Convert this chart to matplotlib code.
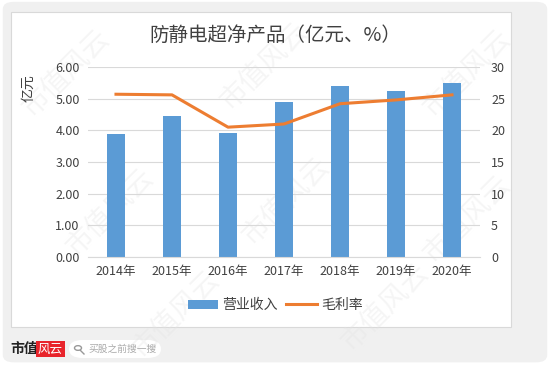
import matplotlib.pyplot as plt
from matplotlib.patches import FancyBboxPatch, Rectangle, Circle
from matplotlib.lines import Line2D

plt.rcParams['font.family'] = ['Noto Sans CJK SC', 'DejaVu Sans']

years = ['2014年', '2015年', '2016年', '2017年', '2018年', '2019年', '2020年']
revenue = [3.89, 4.46, 3.93, 4.91, 5.40, 5.25, 5.48]
margin = [25.7, 25.6, 20.5, 21.0, 24.2, 24.8, 25.6]

fig = plt.figure(figsize=(5.5, 3.66), dpi=100)
fig.patch.set_facecolor('white')

# grey card background and white chart panel
fig.patches.append(FancyBboxPatch((0.005, 0.01), 0.99, 0.985, boxstyle='round,pad=0,rounding_size=0.02',
                                  transform=fig.transFigure, facecolor='#f0f0f0', edgecolor='none', zorder=-3))
fig.patches.append(Rectangle((11 / 550, 1 - 327 / 366), 500 / 550, 315 / 366, transform=fig.transFigure,
                             facecolor='white', edgecolor='#d9d9d9', lw=0.8, zorder=-2))

ax = fig.add_axes([88 / 550, 1 - 257 / 366, 392 / 550, 190 / 366])
ax.set_facecolor('none')
x = range(len(years))
ax.bar(x, revenue, width=0.31, color='#5B9BD5', zorder=2, label='营业收入')
ax.set_ylim(0, 6)
ax.set_xlim(-0.5, 6.5)
ax.set_yticks([0, 1, 2, 3, 4, 5, 6])
ax.set_yticklabels(['%.2f' % v for v in [0, 1, 2, 3, 4, 5, 6]])
ax.set_xticks(list(x))
ax.set_xticklabels(years)
ax.grid(axis='y', color='#d9d9d9', lw=0.8, zorder=0)
for s in ['top', 'right', 'left']:
    ax.spines[s].set_visible(False)
ax.spines['bottom'].set_color('#d9d9d9')
ax.tick_params(length=0, labelsize=9, colors='#404040', pad=6)
ax.set_ylabel('亿元', fontsize=10, color='#404040')
ax.yaxis.set_label_coords(-0.135, 0.89)

ax2 = ax.twinx()
ax2.plot(list(x), margin, color='#ED7D31', lw=2.2, zorder=3, label='毛利率')
ax2.set_ylim(0, 30)
ax2.set_yticks([0, 5, 10, 15, 20, 25, 30])
for s in ['top', 'right', 'left', 'bottom']:
    ax2.spines[s].set_visible(False)
ax2.tick_params(length=0, labelsize=9, colors='#404040', pad=8)

fig.text(0.5, 1 - 35 / 366, '防静电超净产品（亿元、%）', ha='center', va='center', fontsize=14, color='#404040')

h1, l1 = ax.get_legend_handles_labels()
h2, l2 = ax2.get_legend_handles_labels()
fig.legend(h1 + h2, l1 + l2, loc='center', bbox_to_anchor=(0.5, 1 - 305 / 366), ncol=2, frameon=False,
           fontsize=10, handlelength=2.2, handleheight=0.6, columnspacing=0.6, handletextpad=0.3,
           labelcolor='#404040')

# faint diagonal watermarks
for wx, wy in [(0.12, 0.8), (0.48, 0.82), (0.85, 0.8), (0.2, 0.42), (0.52, 0.45), (0.85, 0.4),
               (0.32, 0.14), (0.7, 0.16)]:
    fig.text(wx, wy, '市值风云', fontsize=20, color='#e4e4e4', rotation=45, alpha=0.35,
             ha='center', va='center', zorder=-1)

# footer
fig.text(10 / 550, 1 - 349 / 366, '市值', fontsize=10, fontweight='bold', color='#222222', va='center')
fig.text(38 / 550, 1 - 349 / 366, '风云', fontsize=9, color='white', va='center', style='italic',
         bbox=dict(boxstyle='square,pad=0.15', fc='#e8242b', ec='none'))
fig.patches.append(FancyBboxPatch((69 / 550, 1 - 358 / 366), 92 / 550, 18 / 366,
                                  boxstyle='round,pad=0,rounding_size=0.025', transform=fig.transFigure,
                                  facecolor='white', edgecolor='none', zorder=-1))
fig.patches.append(Circle((78 / 550, 1 - 348 / 366), 3.5 / 550, transform=fig.transFigure,
                          facecolor='none', edgecolor='#999999', lw=1.0))
fig.lines.append(Line2D([80.5 / 550, 84 / 550], [1 - 350.5 / 366, 1 - 354 / 366], transform=fig.transFigure,
                        color='#999999', lw=1.0))
fig.text(88 / 550, 1 - 349 / 366, '买股之前搜一搜', fontsize=7, color='#aaaaaa', va='center')

fig.savefig('out.png', dpi=100)
